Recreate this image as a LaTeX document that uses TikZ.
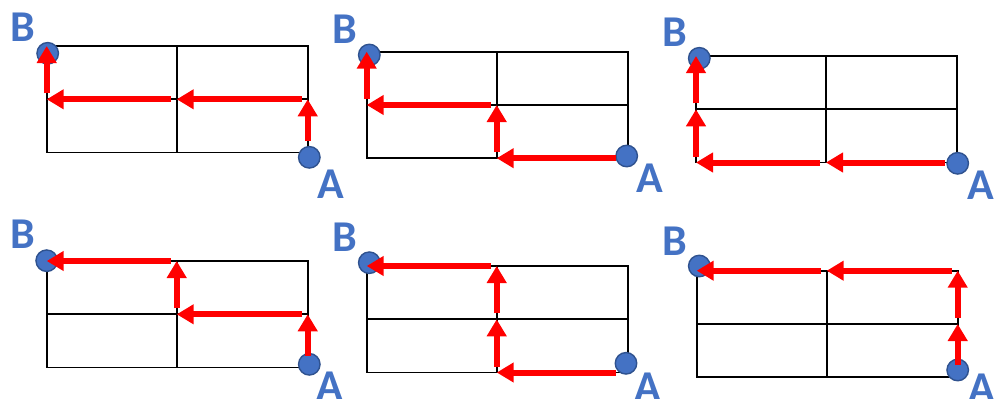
\documentclass[tikz,border=0pt]{standalone}
\usepackage{fontspec}
\newfontfamily\labelfont{Carlito}
\usetikzlibrary{arrows.meta}

\definecolor{officeblue}{HTML}{4472C4}
\definecolor{darkblue}{HTML}{2F528F}

% corners and middles of one 2x2 grid, then the grid itself
\newcommand{\cellgrid}{%
  \foreach \c/\px/\py in {tl/0/0, tm/130/0, tr/261/0,
                          ml/0/53.3, mm/130/53.3, mr/261/53.3,
                          bl/0/106.5, bm/130/106.5, br/261/106.5}
    \coordinate (\c) at (\px,\py);
  \draw[gridline] (tl) rectangle (br) (tm) -- (bm) (ml) -- (mr);
}

\begin{document}
\begin{tikzpicture}[x=1pt, y=-1pt,
  gridline/.style={line width=1.9pt, line join=miter},
  dot/.style={circle, fill=officeblue, draw=darkblue, line width=1.4pt,
              minimum size=21.5pt, inner sep=0pt},
  lbl/.style={text=officeblue, inner sep=0pt,
              font=\fontsize{44}{44}\selectfont\labelfont\bfseries},
  move/.style={draw=red, line width=6pt,
               -{Triangle[length=17pt,width=19pt]}, shorten <=6pt},
  first/.style={move, shorten <=12pt}]

  \useasboundingbox (0,0) rectangle (1007,399);

  % top row
  \begin{scope}[shift={(46.7,46)}]
    \cellgrid
    \node[dot] (B) at (1,7.3) {};
    \node[dot] (A) at (262.6,111.3) {};
    \node[lbl] (nB) at (-24.2,-18.5) {B};
    \node[lbl] (nA) at (283.8,138) {A};
    \draw[first] (br) -- (mr);
    \draw[move] (mr) -- (mm);
    \draw[move] (mm) -- (ml);
    \draw[move] (ml) -- (tl);
  \end{scope}

  \begin{scope}[shift={(366.7,51.7)}]
    \cellgrid
    \node[dot] (B) at (2.6,3.3) {};
    \node[dot] (A) at (260,104.3) {};
    \node[lbl] (nB) at (-22,-22.7) {B};
    \node[lbl] (nA) at (283.3,126.3) {A};
    \draw[first] (br) -- (bm);
    \draw[move] (bm) -- (mm);
    \draw[move] (mm) -- (ml);
    \draw[move] (ml) -- (tl);
  \end{scope}

  \begin{scope}[shift={(696,56)}]
    \cellgrid
    \node[dot] (B) at (3.3,2.3) {};
    \node[dot] (A) at (261.7,107.3) {};
    \node[lbl] (nB) at (-21.3,-24) {B};
    \node[lbl] (nA) at (285,129) {A};
    \draw[first] (br) -- (bm);
    \draw[move] (bm) -- (bl);
    \draw[move] (bl) -- (ml);
    \draw[move] (ml) -- (tl);
  \end{scope}

  % bottom row
  \begin{scope}[shift={(46.7,261)}]
    \cellgrid
    \node[dot] (B) at (0,-0.3) {};
    \node[dot] (A) at (262.6,103.3) {};
    \node[lbl] (nB) at (-24.2,-27) {B};
    \node[lbl] (nA) at (283.3,125) {A};
    \draw[first] (br) -- (mr);
    \draw[move] (mr) -- (mm);
    \draw[move] (mm) -- (tm);
    \draw[move] (tm) -- (tl);
  \end{scope}

  \begin{scope}[shift={(366.7,266)}]
    \cellgrid
    \node[dot] (B) at (2.6,-3.3) {};
    \node[dot] (A) at (259.3,97.3) {};
    \node[lbl] (nB) at (-22,-28.5) {B};
    \node[lbl] (nA) at (280.8,121) {A};
    \draw[first] (br) -- (bm);
    \draw[move] (bm) -- (mm);
    \draw[move] (mm) -- (tm);
    \draw[move] (tm) -- (tl);
  \end{scope}

  \begin{scope}[shift={(696.7,270.7)}]
    \cellgrid
    \node[dot] (B) at (2.6,-4.7) {};
    \node[dot] (A) at (261,99.3) {};
    \node[lbl] (nB) at (-22.2,-29.7) {B};
    \node[lbl] (nA) at (285.3,117.3) {A};
    \draw[first] (br) -- (mr);
    \draw[move] (mr) -- (tr);
    \draw[move] (tr) -- (tm);
    \draw[move] (tm) -- (tl);
  \end{scope}

\end{tikzpicture}
\end{document}
